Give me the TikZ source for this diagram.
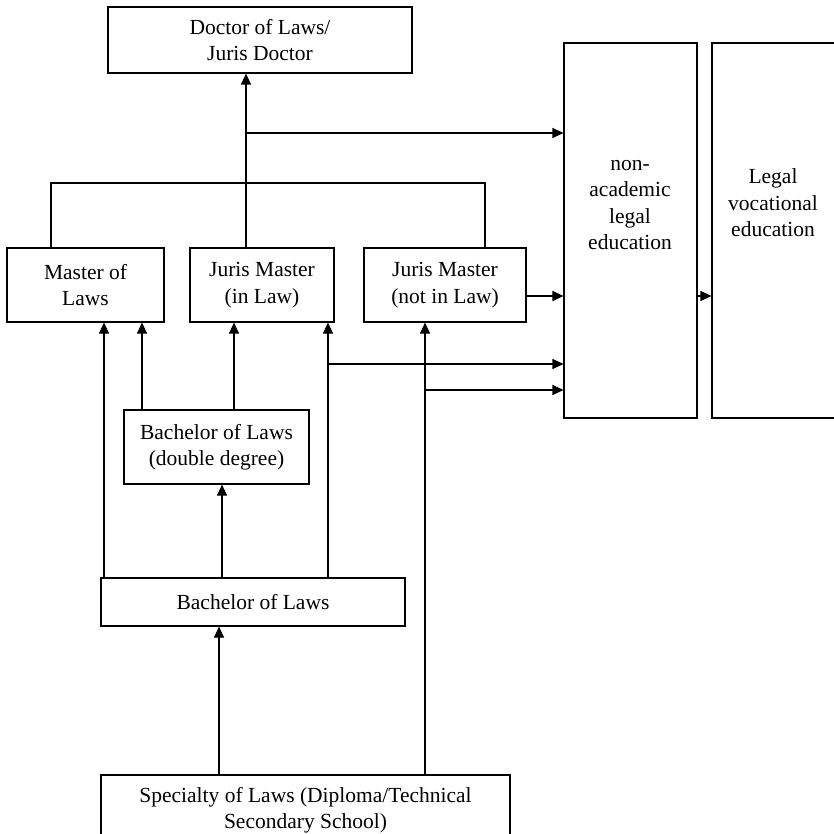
\documentclass[tikz,border=0pt]{standalone}
\usepackage{fontspec}
\setmainfont{Liberation Serif}
\usetikzlibrary{arrows.meta, positioning}

\begin{document}
\begin{tikzpicture}[x=1pt, y=-1pt, line width=1.1pt,
  degbox/.style={draw, inner sep=0pt, align=center, font=\fontsize{21.5}{26.5}\selectfont},
  plain/.style={inner sep=0pt, align=center, font=\fontsize{21.5}{26.5}\selectfont},
  up/.style={-{Triangle[length=11pt,width=10pt]}}]

\useasboundingbox (0,0) rectangle (833,834);

% Boxes
\node[degbox, minimum width=304pt, minimum height=66pt] (doctor) at (260,40) {Doctor of Laws/\\Juris Doctor};
\node[degbox, minimum width=133pt, minimum height=375pt] (nonacad) at (630.5,230.5) {};
\node[degbox, minimum width=128pt, minimum height=375pt] (legalvoc) at (776,230.5) {};
\node[plain] (nonacadtxt) at (630,205) {non-\\academic\\legal\\education};
\node[plain] (legalvoctxt) at (773,203) {Legal\\vocational\\education};

\node[degbox, minimum width=157pt, minimum height=74pt] (llm) at (85.5,285) {Master of\\Laws};
\node[degbox, minimum width=144pt, minimum height=74pt] (jmin) at (262,285) {Juris Master\\(in Law)};
\node[degbox, minimum width=162pt, minimum height=74pt] (jmnot) at (445,285) {Juris Master\\(not in Law)};
\node[degbox, minimum width=185pt, minimum height=74pt] (llbdd) at (216.5,447) {Bachelor of Laws\\(double degree)};
\node[degbox, minimum width=304pt, minimum height=48pt] (llb) at (253,602) {Bachelor of Laws};
\node[degbox, minimum width=409pt, minimum height=70pt] (spec) at (305.5,810) {Specialty of Laws (Diploma/Technical\\Secondary School)};

% Columns and junctions
\coordinate (jd) at (246,133);
\coordinate (barl) at (51,183);
\coordinate (barr) at (485,183);
\coordinate (side) at (0,296);
\coordinate (brA) at (328,364);
\coordinate (brB) at (425,390);

% To the doctorate
\draw[up] (jmin.north -| jd) -- (doctor.south -| jd);
\draw[up] (jd) -- (jd -| nonacad.west);
\draw (llm.north -| barl) -- (barl) -- (barr) -- (jmnot.north -| barr);

% Sideways into non-academic / vocational
\draw[up] (jmnot.east |- side) -- (nonacad.west |- side);
\draw[up] (nonacad.east |- side) -- (legalvoc.west |- side);

% Up into the masters
\draw[up] (llb.north -| 104,0) -- (llm.south -| 104,0);
\draw[up] (llbdd.north -| 142,0) -- (llm.south -| 142,0);
\draw[up] (llbdd.north -| 234,0) -- (jmin.south -| 234,0);
\draw[up] (llb.north -| brA) -- (jmin.south -| brA);
\draw[up] (brA) -- (brA -| nonacad.west);
\draw[up] (spec.north -| brB) -- (jmnot.south -| brB);
\draw[up] (brB) -- (brB -| nonacad.west);

% Bachelor levels
\draw[up] (llb.north -| 222,0) -- (llbdd.south -| 222,0);
\draw[up] (spec.north -| 219,0) -- (llb.south -| 219,0);

\end{tikzpicture}
\end{document}
